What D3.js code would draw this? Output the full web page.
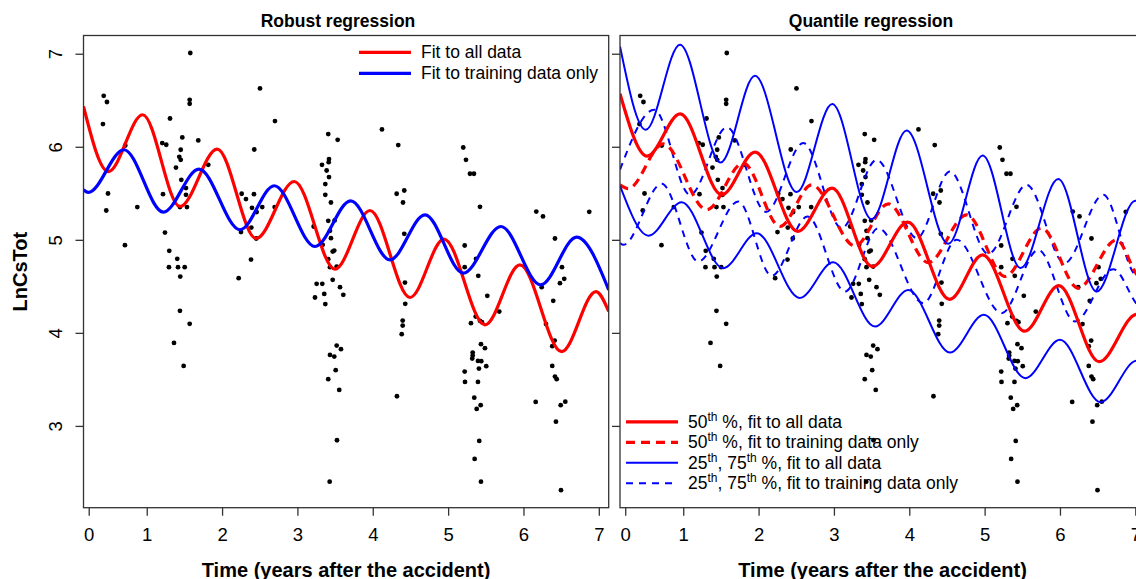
<!DOCTYPE html>
<html>
<head>
<meta charset="utf-8">
<script src="https://cdn.jsdelivr.net/npm/d3@7"></script>
<style>
  body { margin: 0; background: #fff; }
  svg { display: block; font-family: "Liberation Sans", Arial, sans-serif; }
</style>
</head>
<body>
<svg id="chart" width="1136" height="579"></svg>
<script>
const timeYears = [
  0.429, 0.472, 0.419, 0.486, 0.463, 0.711, 0.715, 0.875,
  1.309, 1.206, 1.259, 1.472, 1.451, 1.388, 1.432, 1.451, 1.459, 1.216, 1.521, 1.521,
  1.441, 1.534, 1.242, 1.299, 1.405, 1.295, 1.415, 1.504, 1.445, 1.578, 1.570, 1.570,
  1.684, 1.817, 1.441, 1.570, 1.362, 1.490,
  2.503, 2.702, 2.427, 2.260, 2.317, 2.423, 2.397, 2.459, 2.533, 2.698, 2.251, 2.388,
  2.454, 2.384, 2.220,
  3.409, 3.534, 3.326, 3.419, 3.415, 3.388, 3.419, 3.370, 3.370, 3.445, 3.216, 3.409,
  3.494, 3.432, 3.445, 3.335, 3.489, 3.468, 3.409, 3.432, 3.521, 3.468, 3.565, 3.255,
  3.330, 3.356, 3.233, 3.609, 3.370, 3.521, 3.578, 3.432, 3.489, 3.508, 3.409, 3.555,
  3.525, 3.428,
  4.122, 4.338, 4.317, 4.418, 4.401, 4.418, 4.427, 4.431, 4.397, 4.397, 4.384, 4.321,
  5.201, 5.237, 5.290, 5.343, 5.423, 5.220, 5.220, 5.370, 5.400, 5.520, 5.679, 5.366,
  5.303, 5.423, 5.449, 5.436, 5.489, 5.326, 5.326, 5.320, 5.396, 5.440, 5.506, 5.409,
  5.220, 5.224, 5.396, 5.347, 5.432, 5.379, 5.413, 5.352, 5.436,
  6.170, 6.259, 6.418, 6.511, 6.541, 6.484, 6.242, 6.873, 6.395, 6.299, 6.414, 6.382,
  6.382, 6.418, 6.441, 6.162, 6.494, 6.555, 6.431, 6.498
];
const lnCsTot = [
  6.548, 6.481, 6.244, 5.498, 5.315, 4.943, 6.014, 5.352,
  6.304, 6.040, 6.022, 6.100, 5.968, 5.777, 5.892, 5.860, 5.645, 5.491, 5.556, 5.484,
  5.352, 5.352, 5.078, 4.882, 4.796, 4.706, 4.706, 4.706, 4.605, 7.008, 6.505, 6.462,
  6.068, 5.806, 4.237, 4.097, 3.892, 3.645,
  6.627, 6.276, 5.971, 5.495, 5.438, 5.491, 5.344, 5.298, 5.352, 5.352, 5.083, 5.132,
  5.014, 4.788, 4.588,
  6.137, 6.075, 5.806, 5.868, 5.835, 5.745, 5.674, 5.599, 5.484, 5.401, 5.143, 5.204,
  5.208, 5.097, 5.018, 4.946, 4.885, 4.874, 4.792, 4.706, 4.713, 4.570, 4.491, 4.527,
  4.527, 4.419, 4.380, 4.409, 4.309, 3.863, 3.825, 3.763, 3.745, 3.599, 3.502, 3.387,
  2.846, 2.401,
  6.186, 6.018, 5.495, 5.530, 5.401, 5.065, 4.541, 4.312, 4.132, 4.078, 3.986, 3.319,
  5.992, 5.860, 5.710, 5.710, 5.355, 4.939, 4.706, 4.796, 4.613, 4.398, 4.229, 4.175,
  4.104, 4.129, 4.115, 3.878, 3.835, 3.788, 3.756, 3.724, 3.699, 3.696, 3.642, 3.616,
  3.584, 3.473, 3.473, 3.304, 3.223, 3.183, 2.839, 2.645, 2.401,
  5.304, 5.251, 5.014, 4.706, 4.581, 4.534, 4.491, 5.301, 4.344, 4.094, 3.917, 3.857,
  3.645, 3.530, 3.502, 3.258, 3.223, 3.261, 3.046, 2.309
];

// fitted curves, sampled at their peaks and troughs [time, LnCsTot]
const robustAll = [[0.161, 6.433], [0.490, 5.734], [0.946, 6.344], [1.441, 5.358], [1.936, 5.975],
  [2.450, 5.014], [2.958, 5.627], [3.498, 4.685], [3.963, 5.315], [4.494, 4.380], [4.945, 5.008],
  [5.489, 4.086], [5.953, 4.731], [6.507, 3.799], [6.962, 4.444], [7.131, 4.23]];
const robustTrain = [[0.161, 5.538], [0.224, 5.509], [0.698, 5.968], [1.220, 5.298], [1.693, 5.760],
  [2.238, 5.108], [2.693, 5.581], [3.233, 4.928], [3.707, 5.419], [4.228, 4.785], [4.693, 5.269],
  [5.201, 4.642], [5.701, 5.143], [6.228, 4.516], [6.706, 5.029], [7.131, 4.462]];
const q75All = [[0.161, 7.078], [0.502, 6.183], [0.957, 7.097], [1.497, 5.831], [1.952, 6.763],
  [2.506, 5.513], [2.978, 6.459], [3.501, 5.222], [3.965, 6.175], [4.518, 4.957], [4.974, 5.906],
  [5.478, 4.696], [5.977, 5.653], [6.487, 4.444], [7.0, 5.42], [7.131, 5.32]];
const q50All = [[0.161, 6.57], [0.52, 5.90], [0.96, 6.353], [1.51, 5.484], [1.955, 5.943],
  [2.52, 5.09], [2.975, 5.556], [3.51, 4.713], [3.98, 5.19], [4.535, 4.36], [4.974, 4.839],
  [5.53, 4.018], [5.985, 4.507], [6.52, 3.690], [7.02, 4.2], [7.131, 4.15]];
const q25All = [[0.161, 5.58], [0.54, 5.045], [0.979, 5.405], [1.53, 4.695], [1.975, 5.072],
  [2.545, 4.375], [2.991, 4.758], [3.545, 4.068], [3.987, 4.462], [4.540, 3.788], [4.99, 4.194],
  [5.54, 3.513], [6.0, 3.925], [6.54, 3.255], [7.02, 3.70], [7.131, 3.65]];
const q50Train = [[0.161, 5.59], [0.27, 5.55], [0.735, 6.032], [1.311, 5.323], [1.797, 5.825],
  [2.284, 5.143], [2.705, 5.591], [3.279, 4.935], [3.721, 5.387], [4.252, 4.756], [4.762, 5.269],
  [5.270, 4.606], [5.757, 5.126], [6.243, 4.481], [6.752, 5.0], [7.009, 4.64], [7.131, 4.52]];
const q75Train = [[0.161, 5.753], [0.616, 6.398], [1.09, 5.484], [1.58, 6.21], [2.1, 5.30],
  [2.593, 6.04], [3.103, 5.126], [3.567, 5.86], [4.1, 5.018], [4.54, 5.734], [5.048, 4.849],
  [5.558, 5.591], [6.06, 4.75], [6.575, 5.484], [7.009, 4.62], [7.131, 4.6]];
const q25Train = [[0.161, 4.965], [0.204, 4.946], [0.714, 5.602], [1.2, 4.767], [1.731, 5.412],
  [2.174, 4.613], [2.65, 5.25], [3.147, 4.444], [3.589, 5.126], [4.186, 4.319], [4.629, 5.0],
  [5.226, 4.212], [5.712, 4.892], [6.199, 4.122], [6.708, 4.685], [7.009, 4.32], [7.131, 4.2]];

const xTickValues = [0.23, 1, 2, 3, 4, 5, 6, 7];
const xTickLabels = ["0", "1", "2", "3", "4", "5", "6", "7"];
const yTickValues = [3, 4, 5, 6, 7];

const RED = "#ff0000", BLUE = "#0000ff";
const plotTop = 35.5, plotBottom = 507.7;

const svg = d3.select("#chart");
svg.append("rect").attr("width", 1136).attr("height", 579).attr("fill", "#fff");

// R style axis limits: data range stretched by 4% each side
const pad = (e) => { const r = e[1] - e[0]; return [e[0] - 0.04 * r, e[1] + 0.04 * r]; };
const y = d3.scaleLinear().domain(pad(d3.extent(lnCsTot))).range([plotBottom, plotTop]);

const panels = [
  {
    left: 83.5, right: 608.7, title: "Robust regression", titleX: 338, yLabels: true,
    curves: [
      { data: robustAll, color: RED, width: 3.2 },
      { data: robustTrain, color: BLUE, width: 3.2 }
    ]
  },
  {
    left: 620, right: 1145.2, title: "Quantile regression", titleX: 871, yLabels: false,
    curves: [
      { data: q75Train, color: BLUE, width: 2, dash: "7,6" },
      { data: q25Train, color: BLUE, width: 2, dash: "7,6" },
      { data: q50Train, color: RED, width: 3.2, dash: "9,6" },
      { data: q75All, color: BLUE, width: 2 },
      { data: q25All, color: BLUE, width: 2 },
      { data: q50All, color: RED, width: 3.2 }
    ]
  }
];

panels.forEach((p, k) => {
  const x = d3.scaleLinear().domain(pad(d3.extent(timeYears))).range([p.left, p.right]);
  const g = svg.append("g");
  const clipId = "clip" + k;

  svg.append("clipPath").attr("id", clipId).append("rect")
    .attr("x", p.left).attr("y", plotTop)
    .attr("width", p.right - p.left).attr("height", plotBottom - plotTop);

  g.append("g").selectAll("circle")
    .data(d3.range(timeYears.length))
    .join("circle")
    .attr("cx", (i) => x(timeYears[i]))
    .attr("cy", (i) => y(lnCsTot[i]))
    .attr("r", 2.4)
    .attr("fill", "#000");

  const line = d3.line().x((d) => x(d[0])).y((d) => y(d[1])).curve(d3.curveMonotoneX);

  p.curves.forEach((c) => {
    g.append("path")
      .attr("d", line(c.data))
      .attr("fill", "none")
      .attr("stroke", c.color)
      .attr("stroke-width", c.width)
      .attr("stroke-dasharray", c.dash || null)
      .attr("clip-path", `url(#${clipId})`);
  });

  // frame
  g.append("rect")
    .attr("x", p.left).attr("y", plotTop)
    .attr("width", p.right - p.left).attr("height", plotBottom - plotTop)
    .attr("fill", "none").attr("stroke", "#333").attr("stroke-width", 1.3);

  const xAxis = g.append("g")
    .attr("transform", `translate(0,${plotBottom})`)
    .call(d3.axisBottom(x).tickValues(xTickValues).tickFormat((d, i) => xTickLabels[i])
      .tickSize(8).tickSizeOuter(0).tickPadding(12));
  xAxis.select(".domain").remove();
  xAxis.selectAll("line").attr("stroke", "#333").attr("stroke-width", 1.3);
  xAxis.selectAll("text").attr("font-size", 18.5).attr("fill", "#000").attr("font-family", null);

  const yAxis = g.append("g")
    .attr("transform", `translate(${p.left},0)`)
    .call(d3.axisLeft(y).tickValues(yTickValues).tickFormat(p.yLabels ? d3.format("d") : () => "")
      .tickSize(8).tickSizeOuter(0));
  yAxis.select(".domain").remove();
  yAxis.selectAll("line").attr("stroke", "#333").attr("stroke-width", 1.3);
  yAxis.selectAll("text")
    .attr("x", null).attr("dy", null)
    .attr("text-anchor", "middle")
    .attr("transform", `translate(${62 - p.left},0) rotate(-90)`)
    .attr("font-size", 18.5).attr("fill", "#000").attr("font-family", null);

  svg.append("text")
    .attr("x", p.titleX).attr("y", 27.3)
    .attr("text-anchor", "middle")
    .attr("font-size", 17.5).attr("font-weight", "bold")
    .text(p.title);

  svg.append("text")
    .attr("x", (p.left + p.right) / 2).attr("y", 576.5)
    .attr("text-anchor", "middle")
    .attr("font-size", 20).attr("font-weight", "bold")
    .text("Time (years after the accident)");
});

svg.append("text")
  .attr("transform", "translate(27,271.6) rotate(-90)")
  .attr("text-anchor", "middle")
  .attr("font-size", 20).attr("font-weight", "bold")
  .text("LnCsTot");

// legends
const robustLegend = [
  { parts: [["Fit to all data"]], color: RED, width: 3.2 },
  { parts: [["Fit to training data only"]], color: BLUE, width: 3.2 }
];
const quantileLegend = [
  { parts: [["50"], ["th", 1], [" %, fit to all data"]], color: RED, width: 3.2 },
  { parts: [["50"], ["th", 1], [" %, fit to training data only"]], color: RED, width: 3.2, dash: "9,6" },
  { parts: [["25"], ["th", 1], [", 75"], ["th", 1], [" %, fit to all data"]], color: BLUE, width: 2 },
  { parts: [["25"], ["th", 1], [", 75"], ["th", 1], [" %, fit to training data only"]], color: BLUE, width: 2, dash: "7,6" }
];

function drawLegend(items, x0, y0, step) {
  items.forEach((it, i) => {
    const yy = y0 + i * step;
    svg.append("line")
      .attr("x1", x0).attr("x2", x0 + 52).attr("y1", yy).attr("y2", yy)
      .attr("stroke", it.color).attr("stroke-width", it.width)
      .attr("stroke-dasharray", it.dash || null);
    const t = svg.append("text")
      .attr("x", x0 + 62).attr("y", yy + 6)
      .attr("font-size", 17.5);
    let raised = false;
    it.parts.forEach(([s, sup]) => {
      const ts = t.append("tspan").text(s);
      if (sup && !raised) { ts.attr("dy", -7).attr("font-size", 12); raised = true; }
      else if (!sup && raised) { ts.attr("dy", 7); raised = false; }
    });
  });
}

drawLegend(robustLegend, 359, 52.3, 21);
drawLegend(quantileLegend, 626, 421.8, 20.5);
</script>
</body>
</html>
